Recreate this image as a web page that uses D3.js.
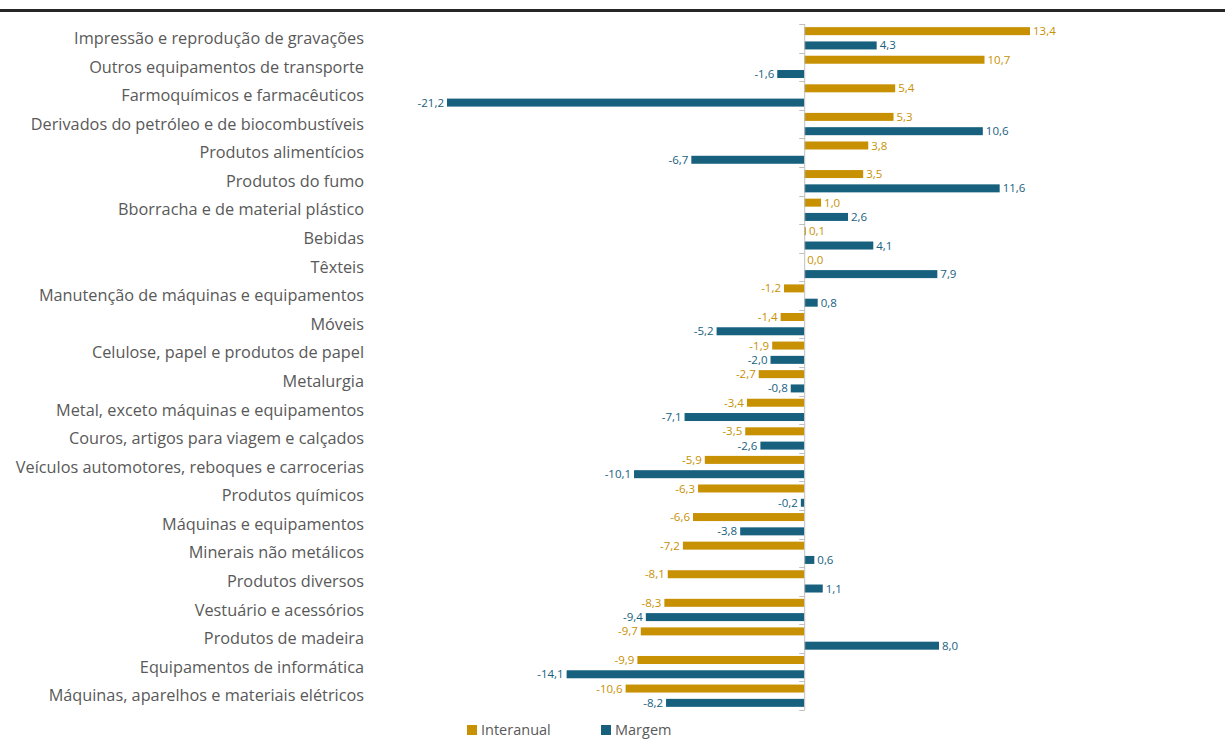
<!DOCTYPE html>
<html>
<head>
<meta charset="utf-8">
<script src="https://cdn.jsdelivr.net/npm/d3@7"></script>
<style>
	body { margin: 0; background: #fff; }
	svg { display: block; font-family: "Open Sans", sans-serif; }
</style>
</head>
<body>
<script>
var categories = [
	"Impressão e reprodução de gravações",
	"Outros equipamentos de transporte",
	"Farmoquímicos e farmacêuticos",
	"Derivados do petróleo e de biocombustíveis",
	"Produtos alimentícios",
	"Produtos do fumo",
	"Bborracha e de material plástico",
	"Bebidas",
	"Têxteis",
	"Manutenção de máquinas e equipamentos",
	"Móveis",
	"Celulose, papel e produtos de papel",
	"Metalurgia",
	"Metal, exceto máquinas e equipamentos",
	"Couros, artigos para viagem e calçados",
	"Veículos automotores, reboques e carrocerias",
	"Produtos químicos",
	"Máquinas e equipamentos",
	"Minerais não metálicos",
	"Produtos diversos",
	"Vestuário e acessórios",
	"Produtos de madeira",
	"Equipamentos de informática",
	"Máquinas, aparelhos e materiais elétricos"
];
var interanual = [13.4, 10.7, 5.4, 5.3, 3.8, 3.5, 1.0, 0.1, 0.0, -1.2, -1.4, -1.9, -2.7, -3.4, -3.5, -5.9, -6.3, -6.6, -7.2, -8.1, -8.3, -9.7, -9.9, -10.6];
var margem = [4.3, -1.6, -21.2, 10.6, -6.7, 11.6, 2.6, 4.1, 7.9, 0.8, -5.2, -2.0, -0.8, -7.1, -2.6, -10.1, -0.2, -3.8, 0.6, 1.1, -9.4, 8.0, -14.1, -8.2];
var seriesNames = ["Interanual", "Margem"];
var colors = ["#C89104", "#17617F"];

var W = 1225, H = 740;
var svg = d3.select("body").append("svg").attr("width", W).attr("height", H);

//	top rule
svg.append("rect").attr("x", 0).attr("y", 9).attr("width", W).attr("height", 3).attr("fill", "#262626");

var x = d3.scaleLinear().domain([-21.2, 13.4]).range([447, 1030]);
var y = d3.scaleBand().domain(categories).range([24, 710]);
var sub = d3.scaleBand().domain([0, 1]).range([0, y.bandwidth()]).paddingInner(0.9).paddingOuter(0.45);
//	excel style: comma decimal, plain hyphen for minus
var fmt = function(v) { return v.toFixed(1).replace(".", ","); };

var rows = categories.map(function(c, i) {
	return { cat: c, vals: [interanual[i], margem[i]] };
});

//	category labels
svg.append("g").selectAll("text").data(categories).join("text")
	.attr("x", 364).attr("y", function(d) { return y(d) + y.bandwidth() / 2; })
	.attr("dy", "0.35em").attr("text-anchor", "end")
	.attr("font-size", 16.3).attr("fill", "#595959")
	.text(function(d) { return d; });

//	bars
var g = svg.append("g").selectAll("g").data(rows).join("g")
	.attr("transform", function(d) { return "translate(0," + y(d.cat) + ")"; });

var barH = 8;
var cells = function(d) { return d.vals.map(function(v, k) { return { v: v, k: k }; }); };

g.selectAll("rect").data(cells).join("rect")
	.attr("x", function(d) { return Math.min(x(0), x(d.v)); })
	.attr("y", function(d) { return sub(d.k) + sub.bandwidth() / 2 - barH / 2; })
	.attr("width", function(d) { return Math.abs(x(d.v) - x(0)); })
	.attr("height", barH)
	.attr("fill", function(d) { return colors[d.k]; });

g.selectAll("text").data(cells).join("text")
	.attr("x", function(d) { return d.v < 0 ? x(d.v) - 3 : x(d.v) + 3; })
	.attr("y", function(d) { return sub(d.k) + sub.bandwidth() / 2; })
	.attr("dy", "0.35em")
	.attr("text-anchor", function(d) { return d.v < 0 ? "end" : "start"; })
	.attr("font-size", 11.5)
	.attr("fill", function(d) { return colors[d.k]; })
	.text(function(d) { return fmt(d.v); });

//	zero axis with ticks at band edges
var axis = svg.append("g").attr("stroke", "#BFBFBF").attr("stroke-width", 1);
axis.append("line").attr("x1", x(0) + 0.5).attr("x2", x(0) + 0.5).attr("y1", 24).attr("y2", 710);
axis.selectAll("line.tick").data(categories.concat(["end"])).join("line").attr("class", "tick")
	.attr("x1", x(0) - 5).attr("x2", x(0) + 0.5)
	.attr("y1", function(d, i) { return Math.round(24 + i * y.bandwidth()) + 0.5; })
	.attr("y2", function(d, i) { return Math.round(24 + i * y.bandwidth()) + 0.5; });

//	legend
var legend = svg.append("g").selectAll("g").data(seriesNames).join("g")
	.attr("transform", function(d, i) { return "translate(" + (467 + i * 134) + ",725)"; });
legend.append("rect").attr("width", 10).attr("height", 10).attr("fill", function(d, i) { return colors[i]; });
legend.append("text").attr("x", 14).attr("y", 5).attr("dy", "0.36em")
	.attr("font-size", 14.5).attr("fill", "#595959").text(function(d) { return d; });
</script>
</body>
</html>
